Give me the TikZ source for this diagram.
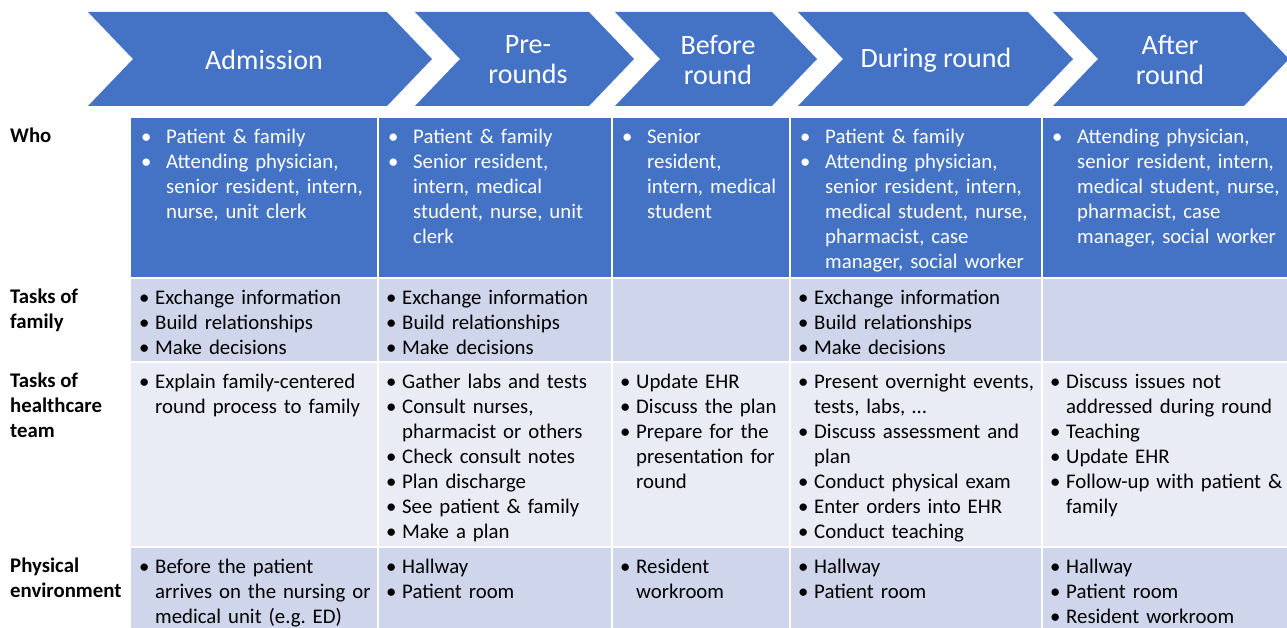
\documentclass[tikz,border=0pt]{standalone}
\usepackage{fontspec}
\setmainfont{Carlito}
\definecolor{hdr}{HTML}{4472C4}
\definecolor{rowA}{HTML}{CFD5EA}
\definecolor{rowB}{HTML}{E9EBF5}
\newlength\bo \newlength\bi
\newcommand\bl[1]{\par\hangindent=\bi\hangafter=1\noindent\strut\makebox[\bi][l]{\hspace{\bo}\textbullet}#1\par}
\let\nl\newline
\tikzset{
  chev/.style={fill=hdr},
  ttl/.style={text=white, align=center, inner sep=0pt, font=\fontsize{28}{30}\selectfont},
  lab/.style={anchor=north west, inner sep=0pt, align=left, font=\bfseries\fontsize{20.8}{25}\selectfont},
  cellw/.style={anchor=north west, inner sep=0pt, text width=#1, align=left, text=white,
     font=\fontsize{20.8}{25}\selectfont, execute at begin node={\setlength\bo{10pt}\setlength\bi{35pt}}},
  cellt/.style={anchor=north west, inner sep=0pt, text width=#1, align=left, text=black,
     font=\fontsize{20.8}{25}\selectfont, execute at begin node={\setlength\bo{8pt}\setlength\bi{24pt}}},
  sep/.style={draw=white, line width=2pt}
}
\begin{document}
\begin{tikzpicture}[x=1pt,y=-1pt]
\useasboundingbox (0,0) rectangle (1287,628);
% chevrons
\foreach \L/\R in {88/387, 415/589, 615/772, 798/1028, 1053/1244}{
  \fill[chev] (\L,12) -- (\R,12) -- (\R+45,59) -- (\R,106) -- (\L,106) -- (\L+45,59) -- cycle;
}
\node[ttl] (t1) at (264,60) {Admission};
\node[ttl] (t2) at (528,60) {Pre-\\rounds};
\node[ttl] (t3) at (718,60) {Before\\round};
\node[ttl] (t4) at (936,60) {During round};
\node[ttl] (t5) at (1170,60) {After\\round};
% rows
\fill[hdr]  (131,118) rectangle (1287,277);
\fill[rowA] (131,279) rectangle (1287,362);
\fill[rowB] (131,362) rectangle (1287,547);
\fill[rowA] (131,547) rectangle (1287,628);
\draw[sep] (131,278) -- (1287,278);
\draw[sep] (131,362) -- (1287,362);
\draw[sep] (131,547) -- (1287,547);
\foreach \x in {378,612,790,1042}{\draw[sep] (\x,118) -- (\x,628);}
% labels
\node[lab] (l1) at (10,124.5) {\strut Who};
\node[lab] (l2) at (10,285.5) {\strut Tasks of\\family};
\node[lab] (l3) at (10,369.5) {\strut Tasks of\\healthcare\\team};
\node[lab] (l4) at (10,554.5) {\strut Physical\\environment};
% Who row
\node[cellw=245pt] (w1) at (131,118) {\bl{Patient \& family}\bl{Attending physician,\nl senior resident, intern,\nl nurse, unit clerk}};
\node[cellw=232pt] (w2) at (378,118) {\bl{Patient \& family}\bl{Senior resident,\nl intern, medical\nl student, nurse, unit\nl clerk}};
\node[cellw=176pt] (w3) at (612,118) {\bl{Senior\nl resident,\nl intern, medical\nl student}};
\node[cellw=250pt] (w4) at (790,118) {\bl{Patient \& family}\bl{Attending physician,\nl senior resident, intern,\nl medical student, nurse,\nl pharmacist, case\nl manager, social worker}};
\node[cellw=245pt] (w5) at (1042,118) {\bl{Attending physician,\nl senior resident, intern,\nl medical student, nurse,\nl pharmacist, case\nl manager, social worker}};
% family row
\node[cellt=245pt] (f1) at (131,279) {\bl{Exchange information}\bl{Build relationships}\bl{Make decisions}};
\node[cellt=232pt] (f2) at (378,279) {\bl{Exchange information}\bl{Build relationships}\bl{Make decisions}};
\node[cellt=250pt] (f4) at (790,279) {\bl{Exchange information}\bl{Build relationships}\bl{Make decisions}};
% healthcare row
\node[cellt=245pt] (h1) at (131,363) {\bl{Explain family-centered\nl round process to family}};
\node[cellt=232pt] (h2) at (378,363) {\bl{Gather labs and tests}\bl{Consult nurses,\nl pharmacist or others}\bl{Check consult notes}\bl{Plan discharge}\bl{See patient \& family}\bl{Make a plan}};
\node[cellt=176pt] (h3) at (612,363) {\bl{Update EHR}\bl{Discuss the plan}\bl{Prepare for the\nl presentation for\nl round}};
\node[cellt=250pt] (h4) at (790,363) {\bl{Present overnight events,\nl tests, labs, …}\bl{Discuss assessment and\nl plan}\bl{Conduct physical exam}\bl{Enter orders into EHR}\bl{Conduct teaching}};
\node[cellt=245pt] (h5) at (1042,363) {\bl{Discuss issues not\nl addressed during round}\bl{Teaching}\bl{Update EHR}\bl{Follow-up with patient \&\nl family}};
% physical row
\node[cellt=245pt] (p1) at (131,548) {\bl{Before the patient\nl arrives on the nursing or\nl medical unit (e.g.\ ED)}};
\node[cellt=232pt] (p2) at (378,548) {\bl{Hallway}\bl{Patient room}};
\node[cellt=176pt] (p3) at (612,548) {\bl{Resident\nl workroom}};
\node[cellt=250pt] (p4) at (790,548) {\bl{Hallway}\bl{Patient room}};
\node[cellt=245pt] (p5) at (1042,548) {\bl{Hallway}\bl{Patient room}\bl{Resident workroom}};
\end{tikzpicture}
\end{document}
